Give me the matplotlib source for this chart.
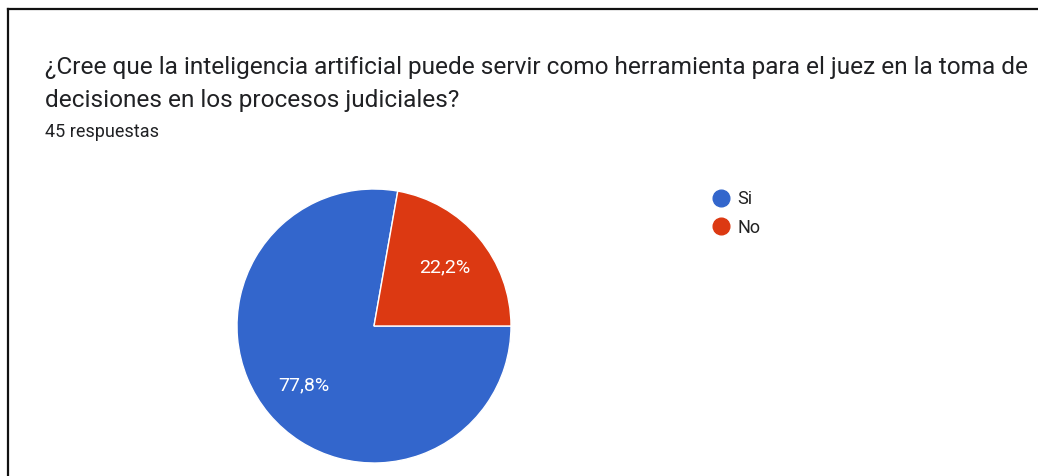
import matplotlib.pyplot as plt
from matplotlib.lines import Line2D

# datos
etiquetas = ['Si', 'No']
respuestas = [35, 10]
colores = ['#3366cc', '#dc3912']
titulo = ['¿Cree que la inteligencia artificial puede servir como herramienta para el juez en la toma de',
          'decisiones en los procesos judiciales?']
subtitulo = '45 respuestas'

W, H = 1038, 476
fig = plt.figure(figsize=(W / 100, H / 100), dpi=100)
fig.patch.set_facecolor('white')

# marco (solo arriba e izquierda visibles)
fig.add_artist(Line2D([8 / W, 8 / W], [0, 1 - 9 / H], color='#111111', lw=1.6))
fig.add_artist(Line2D([8 / W, 1], [1 - 9 / H, 1 - 9 / H], color='#111111', lw=1.6))

for linea, base in zip(titulo, [74, 107]):
    fig.text(45 / W, 1 - base / H, linea, fontsize=17.6, family='Roboto', color='#202124',
             va='baseline', ha='left')
fig.text(45 / W, 1 - 137 / H, subtitulo, fontsize=13, family='Roboto', color='#202124',
         va='baseline', ha='left')

cx, cy, r = 374, 326, 137
ax = fig.add_axes([(cx - r) / W, (H - cy - r) / H, 2 * r / W, 2 * r / H])
wedges, textos, pcts = ax.pie(respuestas, colors=colores, startangle=80, counterclock=True,
                               autopct=lambda p: f'{p:.1f}%'.replace('.', ','),
                               pctdistance=0.67,
                               wedgeprops=dict(edgecolor='white', linewidth=1))
for t in pcts:
    t.set_color('white')
    t.set_fontsize(14)
    t.set_family('Roboto')
ax.set_xlim(-1, 1)
ax.set_ylim(-1, 1)
ax.axis('off')

handles = [Line2D([], [], marker='o', ls='', markersize=12, markerfacecolor=c,
                  markeredgecolor=c) for c in colores]
fig.legend(handles, etiquetas, loc='upper left', bbox_to_anchor=(694 / W, 1 - 174 / H),
           frameon=False, prop=dict(family='Roboto', size=13), handletextpad=0.29,
           labelspacing=0.58, handlelength=1.2, labelcolor='#222222')

fig.savefig('out.png', dpi=100, facecolor='white')
